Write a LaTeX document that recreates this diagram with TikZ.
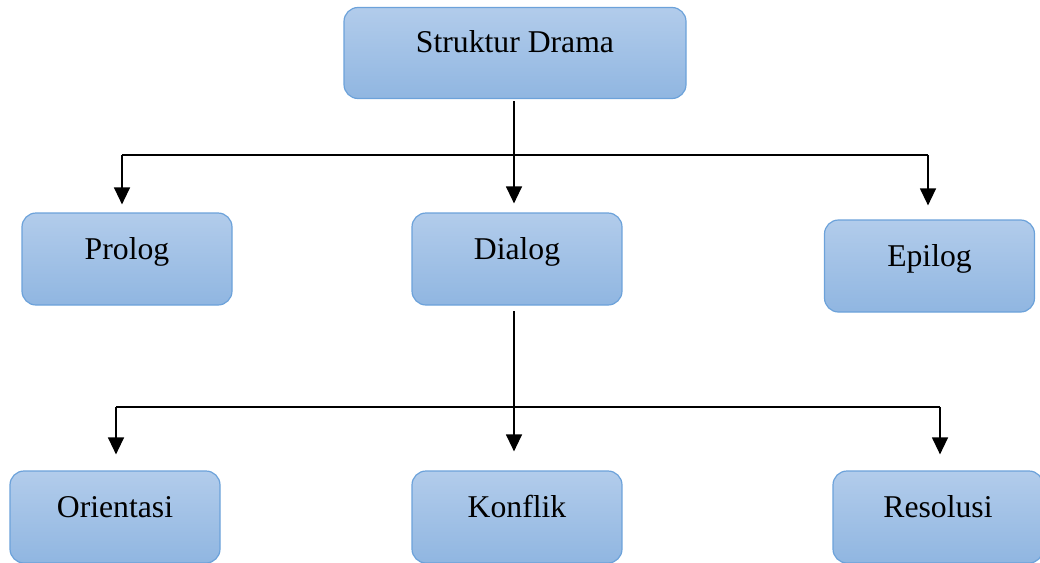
\documentclass[tikz,border=0pt]{standalone}
\usepackage{fontspec}
\setmainfont{Liberation Serif}
\usetikzlibrary{arrows.meta}
\definecolor{boxtop}{HTML}{B2CCEB}
\definecolor{boxbot}{HTML}{90B6E1}
\definecolor{boxline}{HTML}{6CA2DA}
\tikzset{
  box/.style={draw=boxline, line width=1.2pt, rounded corners=14pt,
    top color=boxtop, bottom color=boxbot, inner ysep=0pt, inner xsep=0pt,
    text height=46pt, text depth=46pt, minimum width=210pt,
    font=\fontsize{31.7}{36}\selectfont, text=black},
  conn/.style={line width=1.3pt, draw=black},
  arr/.style={conn, -{Triangle[width=16pt,length=17pt]}}
}
\begin{document}
\begin{tikzpicture}[x=1pt,y=-1pt]
\useasboundingbox (0,0) rectangle (1040,562);
\begin{scope}
\clip (0,0) rectangle (1040,562);
\node[box, minimum width=342pt, text height=45pt] (top) at (515,53) {Struktur Drama};
\node[box] (prolog) at (127,259) {Prolog};
\node[box] (dialog) at (517,259) {Dialog};
\node[box] (epilog) at (929.5,266) {Epilog};
\node[box] (orient) at (115,517) {Orientasi};
\node[box] (konflik) at (517,517) {Konflik};
\node[box] (resol) at (938,517) {Resolusi};
\end{scope}
% first level
\coordinate (h1L) at (122,155);
\coordinate (h1R) at (928,155);
\coordinate (v1) at (514,101);
\draw[conn] (h1L) -- (h1R);
\draw[arr, shorten >=9pt] (v1) -- (v1 |- dialog.north);
\draw[arr, shorten >=8pt] (h1L) -- (h1L |- prolog.north);
\draw[arr, shorten >=14pt] (h1R) -- (h1R |- epilog.north);
% second level
\coordinate (h2L) at (116,407);
\coordinate (h2R) at (940,407);
\coordinate (v2) at (514,311);
\draw[conn] (h2L) -- (h2R);
\draw[arr, shorten >=19pt] (v2) -- (v2 |- konflik.north);
\draw[arr, shorten >=16pt] (h2L) -- (h2L |- orient.north);
\draw[arr, shorten >=16pt] (h2R) -- (h2R |- resol.north);
\end{tikzpicture}
\end{document}
